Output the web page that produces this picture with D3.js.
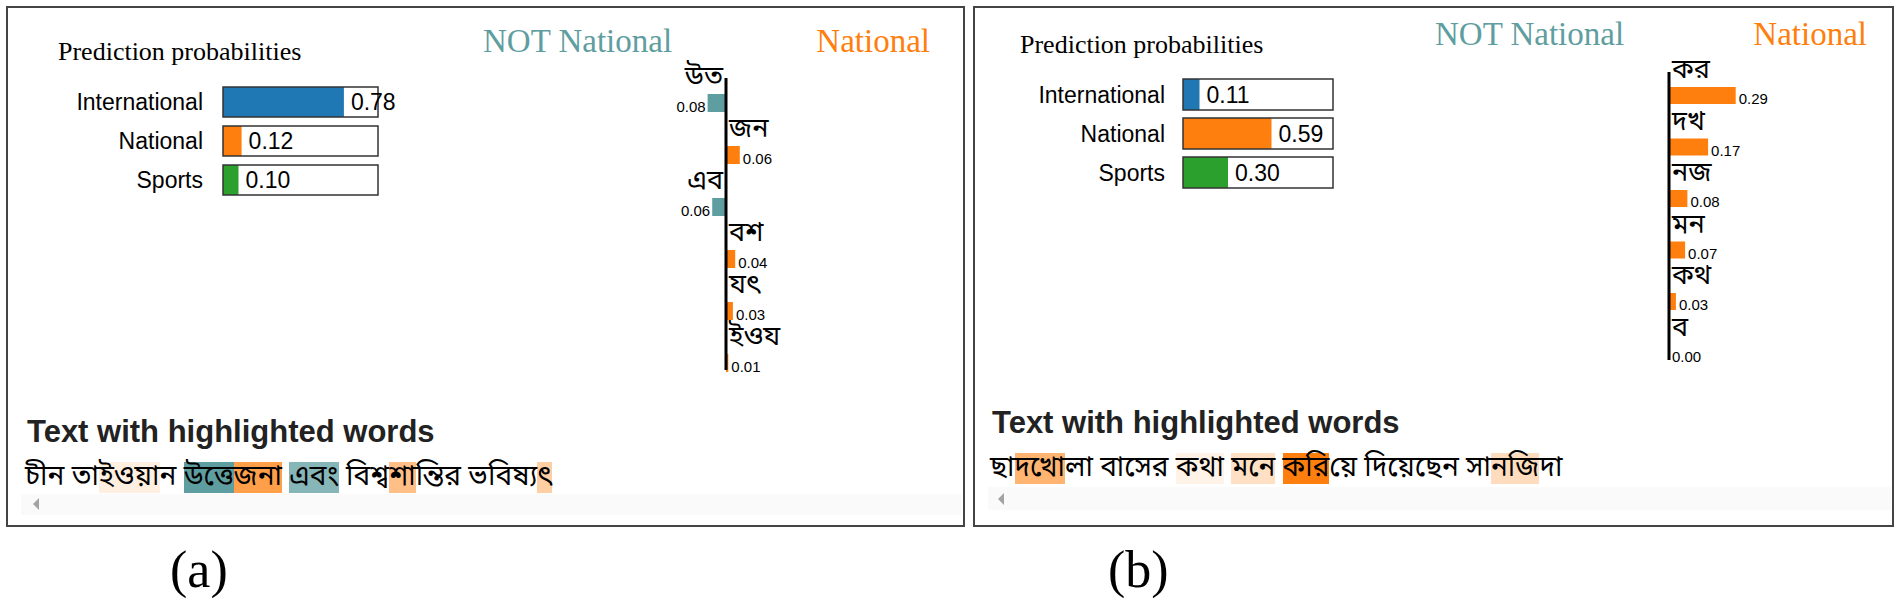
<!DOCTYPE html>
<html>
<head>
<meta charset="utf-8">
<script src="https://cdn.jsdelivr.net/npm/d3@7"></script>
<style>
  body { margin: 0; background: #fff; }
  #wrap { position: relative; width: 1901px; height: 603px; overflow: hidden; }
  svg { position: absolute; left: 0; top: 0; }
  .sent { position: absolute; white-space: pre; font-family: "Noto Sans Bengali", "Noto Serif Bengali", "Lohit Bengali", "Vrinda", "FreeSerif", sans-serif; font-size: 28px; color: #000; }
  .sent span { display: inline-block; height: 31px; line-height: 31px; vertical-align: top; }
</style>
</head>
<body>
<div id="wrap"><svg id="chart" width="1901" height="603"></svg></div>
<script>
// class names and prediction probabilities
const classNames = ["International", "National", "Sports"];
const classColors = ["#1f77b4", "#ff7f0e", "#2ca02c"];
const probsA = [0.78, 0.12, 0.10];
const probsB = [0.11, 0.59, 0.30];

// explained words and weights (negative = NOT National)
const wordsA = ["উত", "জন", "এব", "বশ", "যৎ", "ইওয"];
const weightsA = [-0.08, 0.06, -0.06, 0.04, 0.03, 0.01];
const wordsB = ["কর", "দখ", "নজ", "মন", "কথ", "ব"];
const weightsB = [0.29, 0.17, 0.08, 0.07, 0.03, 0.00];

// sentence pieces and the weight used for highlighting
const textA = ["চীন তা", "ইওয়া", "ন ", "উত্তে", "জনা", " ", "এবং", " বিশ্ব", "শা", "ন্তির ভবিষ্য", "ৎ"];
const textWeightsA = [0, 0.01, 0, -0.08, 0.06, 0, -0.06, 0, 0.04, 0, 0.03];
const textB = ["ছা", "দখো", "লা বাসের ", "কথা", " ", "মনে", " ", "করি", "য়ে দিয়েছেন সা", "নজি", "দা"];
const textWeightsB = [0, 0.17, 0, 0.03, 0, 0.07, 0, 0.29, 0, 0.08, 0];

const captions = ["(a)", "(b)"];

const posColor = "#ff7f0e", negColor = "#5f9ea0";
const bengali = '"Noto Sans Bengali", "Noto Serif Bengali", "Lohit Bengali", "Vrinda", "FreeSerif", sans-serif';

// layout of the two screenshots
const panels = [
  { x0: 7, x1: 964, y0: 7, y1: 526, probs: probsA, words: wordsA, weights: weightsA, text: textA, textW: textWeightsA, caption: captions[0],
    titleX: 58, titleY: 60, labelEnd: 203, boxX: 223, boxW: 155, rowTop: 87, rowStep: 39, rowH: 30,
    notX: 483, natX: 930, headY: 52, axisX: 726, axisTop: 78, axisBottom: 370, barTop: 94, barStep: 52, barH: 18,
    hTitleX: 27, hTitleY: 442, sentX: 25, sentTop: 462, trackY: 494, trackH: 21, arrowX: 33, arrowY: 504, capX: 170, capY: 587 },
  { x0: 974, x1: 1893, y0: 7, y1: 526, probs: probsB, words: wordsB, weights: weightsB, text: textB, textW: textWeightsB, caption: captions[1],
    titleX: 1020, titleY: 53, labelEnd: 1165, boxX: 1183, boxW: 150, rowTop: 79, rowStep: 39, rowH: 31,
    notX: 1435, natX: 1867, headY: 45, axisX: 1669, axisTop: 72, axisBottom: 360, barTop: 87, barStep: 51.5, barH: 17,
    hTitleX: 992, hTitleY: 433, sentX: 990, sentTop: 453, trackY: 487, trackH: 23, arrowX: 998, arrowY: 499, capX: 1108, capY: 587 }
];

const svg = d3.select("#chart");
const wrap = d3.select("#wrap");

// same word-weight scale for both panels
const wScale = d3.scaleLinear().domain([0, 0.3]).range([0, 69]);

panels.forEach(p => {
  const g = svg.append("g");

  // frame
  g.append("rect")
    .attr("x", p.x0).attr("y", p.y0)
    .attr("width", p.x1 - p.x0).attr("height", p.y1 - p.y0)
    .attr("fill", "none").attr("stroke", "#444").attr("stroke-width", 2);

  // prediction probabilities
  g.append("text")
    .attr("x", p.titleX).attr("y", p.titleY)
    .style("font-family", "Liberation Serif, Times New Roman, serif")
    .style("font-size", "26px")
    .text("Prediction probabilities");

  const px = d3.scaleLinear().domain([0, 1]).range([0, p.boxW]);
  const py = d3.scaleLinear().domain([0, 1]).range([p.rowTop, p.rowTop + p.rowStep]);

  const rows = g.selectAll(".prob").data(classNames).enter().append("g").attr("class", "prob");
  rows.append("text")
    .attr("x", p.labelEnd).attr("y", (d, i) => py(i) + p.rowH / 2 + 8)
    .attr("text-anchor", "end")
    .style("font-family", "Liberation Sans, Arial, sans-serif")
    .style("font-size", "23px")
    .text(d => d);
  rows.append("rect")
    .attr("x", p.boxX).attr("y", (d, i) => py(i))
    .attr("width", (d, i) => px(p.probs[i])).attr("height", p.rowH)
    .attr("fill", (d, i) => classColors[i]);
  rows.append("rect")
    .attr("x", p.boxX).attr("y", (d, i) => py(i))
    .attr("width", px(1)).attr("height", p.rowH)
    .attr("fill", "none").attr("stroke", "#333").attr("stroke-width", 1.5);
  rows.append("text")
    .attr("x", (d, i) => p.boxX + px(p.probs[i]) + 7)
    .attr("y", (d, i) => py(i) + p.rowH / 2 + 8)
    .style("font-family", "Liberation Sans, Arial, sans-serif")
    .style("font-size", "23px")
    .text((d, i) => p.probs[i].toFixed(2));

  // class headers
  g.append("text")
    .attr("x", p.notX).attr("y", p.headY)
    .attr("fill", negColor)
    .style("font-family", "Liberation Serif, Times New Roman, serif")
    .style("font-size", "33px")
    .text("NOT National");
  g.append("text")
    .attr("x", p.natX).attr("y", p.headY)
    .attr("text-anchor", "end")
    .attr("fill", posColor)
    .style("font-family", "Liberation Serif, Times New Roman, serif")
    .style("font-size", "33px")
    .text("National");

  // word weights
  const by = d3.scaleLinear().domain([0, 1]).range([p.barTop, p.barTop + p.barStep]);
  const feats = g.selectAll(".feat").data(p.words).enter().append("g").attr("class", "feat");
  feats.append("rect")
    .attr("x", (d, i) => p.weights[i] < 0 ? p.axisX - wScale(-p.weights[i]) : p.axisX)
    .attr("y", (d, i) => by(i))
    .attr("width", (d, i) => wScale(Math.abs(p.weights[i])))
    .attr("height", p.barH)
    .attr("fill", (d, i) => p.weights[i] < 0 ? negColor : posColor);
  feats.append("text")
    .attr("x", (d, i) => p.weights[i] < 0 ? p.axisX - 3 : p.axisX + 3)
    .attr("y", (d, i) => by(i) - 9)
    .attr("text-anchor", (d, i) => p.weights[i] < 0 ? "end" : "start")
    .style("font-family", bengali)
    .style("font-size", "27px")
    .text(d => d);
  feats.append("text")
    .attr("x", (d, i) => p.weights[i] < 0 ? p.axisX - wScale(-p.weights[i]) - 2 : p.axisX + wScale(p.weights[i]) + 3)
    .attr("y", (d, i) => by(i) + p.barH)
    .attr("text-anchor", (d, i) => p.weights[i] < 0 ? "end" : "start")
    .style("font-family", "Liberation Sans, Arial, sans-serif")
    .style("font-size", "15px")
    .text((d, i) => Math.abs(p.weights[i]).toFixed(2));
  g.append("line")
    .attr("x1", p.axisX).attr("x2", p.axisX)
    .attr("y1", p.axisTop).attr("y2", p.axisBottom)
    .attr("stroke", "#000").attr("stroke-width", 3);

  // text with highlighted words
  g.append("text")
    .attr("x", p.hTitleX).attr("y", p.hTitleY)
    .attr("fill", "#222")
    .style("font-family", "Liberation Sans, Arial, sans-serif")
    .style("font-size", "31px")
    .style("font-weight", "bold")
    .text("Text with highlighted words");

  g.append("rect")
    .attr("x", p.x0 + 14).attr("y", p.trackY)
    .attr("width", p.x1 - p.x0 - 16).attr("height", p.trackH)
    .attr("fill", "#fafafa");
  g.append("path")
    .attr("d", `M${p.arrowX},${p.arrowY}l6,-6v12z`)
    .attr("fill", "#a3a3a3");

  const maxW = d3.max(p.textW, w => Math.abs(w));
  const alpha = d3.scaleLinear().domain([0, maxW]).range([0, 1]);
  wrap.append("div")
    .attr("class", "sent")
    .style("left", p.sentX + "px")
    .style("top", p.sentTop + "px")
    .selectAll("span").data(p.text).enter().append("span")
    .style("background", (d, i) => {
      const w = p.textW[i];
      if (!w) return "transparent";
      const c = d3.color(w < 0 ? negColor : posColor);
      c.opacity = alpha(Math.abs(w));
      return c.formatRgb();
    })
    .text(d => d);

  // caption
  svg.append("text")
    .attr("x", p.capX).attr("y", p.capY)
    .style("font-family", "Liberation Serif, Times New Roman, serif")
    .style("font-size", "52px")
    .text(p.caption);
});
</script>
</body>
</html>
